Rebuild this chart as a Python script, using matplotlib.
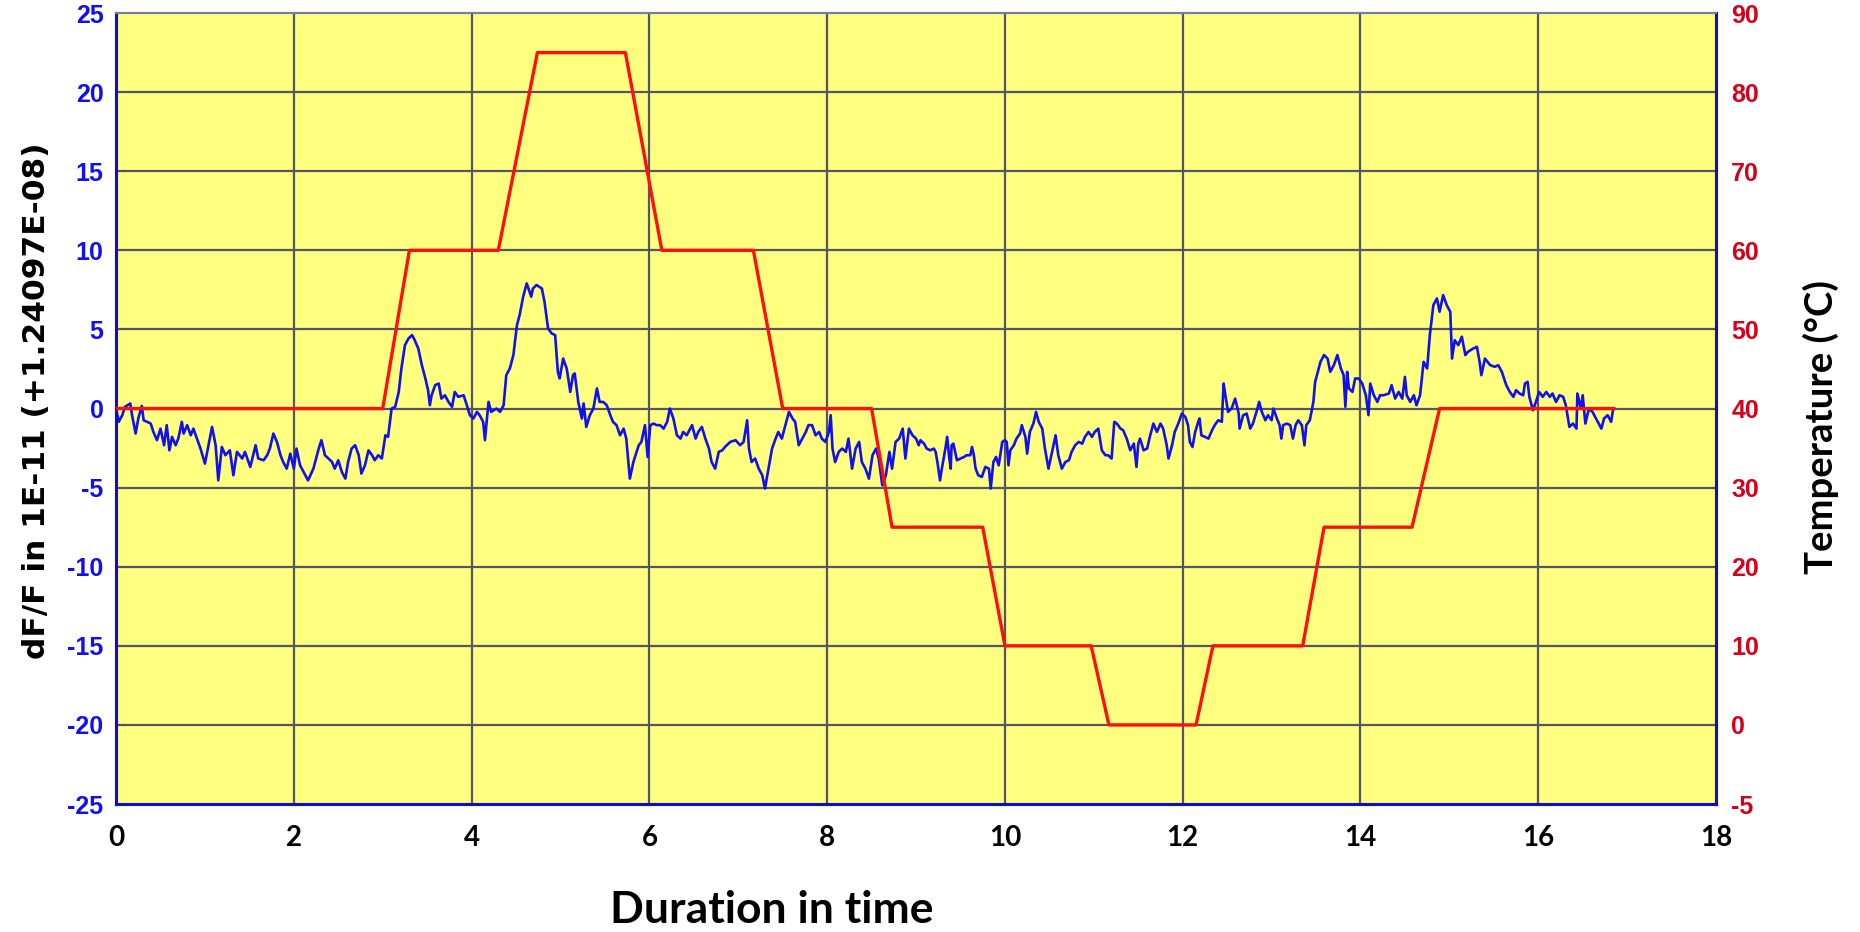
import matplotlib
matplotlib.use("Agg")
import matplotlib.pyplot as plt

plt.rcParams["axes.unicode_minus"] = False

# 溫度程序 (°C)
temp_t = [0, 3.0, 3.3, 4.3, 4.74, 5.73, 6.14, 7.17, 7.5, 8.5, 8.73, 9.75, 10.0, 10.97,
          11.17, 12.15, 12.34, 13.35, 13.59, 14.58, 14.89, 16.85]
temp_c = [40, 40, 60, 60, 85, 85, 60, 60, 40, 40, 25, 25, 10, 10, 0, 0, 10, 10, 25, 25, 40, 40]

# dF/F 讀值 (1E-11)
df_t = [0.00, 0.03, 0.07, 0.10, 0.16, 0.18, 0.22, 0.25, 0.29, 0.31, 0.35, 0.39, 0.42, 0.46, 0.50,
        0.54, 0.57, 0.60, 0.63, 0.67, 0.70, 0.74, 0.76, 0.80, 0.84, 0.87, 0.91, 0.95, 1.00, 1.04,
        1.08, 1.12, 1.15, 1.19, 1.23, 1.28, 1.32, 1.36, 1.42, 1.45, 1.51, 1.57, 1.60, 1.66, 1.70,
        1.73, 1.77, 1.81, 1.85, 1.88, 1.92, 1.96, 2.00, 2.03, 2.07, 2.11, 2.16, 2.22, 2.28, 2.31,
        2.35, 2.39, 2.43, 2.46, 2.50, 2.54, 2.58, 2.61, 2.65, 2.69, 2.73, 2.76, 2.80, 2.84, 2.88,
        2.91, 2.95, 2.99, 3.03, 3.06, 3.10, 3.14, 3.18, 3.21, 3.25, 3.29, 3.33, 3.36, 3.40, 3.44,
        3.48, 3.51, 3.53, 3.55, 3.59, 3.63, 3.66, 3.70, 3.74, 3.78, 3.81, 3.85, 3.91, 3.94, 3.98,
        4.02, 4.06, 4.09, 4.13, 4.15, 4.19, 4.22, 4.28, 4.32, 4.36, 4.39, 4.43, 4.47, 4.51, 4.54,
        4.58, 4.62, 4.64, 4.67, 4.69, 4.73, 4.79, 4.82, 4.86, 4.90, 4.94, 4.97, 4.99, 5.03, 5.07,
        5.11, 5.14, 5.16, 5.20, 5.24, 5.26, 5.29, 5.33, 5.37, 5.41, 5.44, 5.48, 5.52, 5.56, 5.59,
        5.63, 5.67, 5.71, 5.74, 5.78, 5.82, 5.88, 5.91, 5.95, 5.98, 6.01, 6.05, 6.08, 6.12, 6.16,
        6.20, 6.23, 6.27, 6.31, 6.35, 6.38, 6.42, 6.48, 6.52, 6.55, 6.59, 6.63, 6.67, 6.70, 6.74,
        6.78, 6.82, 6.85, 6.91, 6.97, 7.02, 7.06, 7.10, 7.12, 7.15, 7.19, 7.23, 7.27, 7.30, 7.34,
        7.38, 7.42, 7.45, 7.49, 7.53, 7.57, 7.61, 7.64, 7.68, 7.72, 7.76, 7.79, 7.83, 7.87, 7.91,
        7.94, 7.98, 8.02, 8.04, 8.06, 8.09, 8.13, 8.17, 8.21, 8.24, 8.28, 8.32, 8.36, 8.39, 8.43,
        8.47, 8.51, 8.55, 8.58, 8.62, 8.66, 8.70, 8.73, 8.77, 8.81, 8.85, 8.88, 8.92, 8.96, 9.00,
        9.03, 9.05, 9.09, 9.12, 9.16, 9.20, 9.22, 9.24, 9.27, 9.29, 9.33, 9.35, 9.37, 9.39, 9.40,
        9.42, 9.46, 9.50, 9.54, 9.57, 9.61, 9.63, 9.65, 9.67, 9.70, 9.74, 9.78, 9.82, 9.84, 9.87,
        9.90, 9.93, 9.97, 10.00, 10.02, 10.04, 10.06, 10.10, 10.13, 10.17, 10.19, 10.23, 10.25,
        10.28, 10.32, 10.35, 10.38, 10.42, 10.45, 10.49, 10.53, 10.57, 10.60, 10.64, 10.68, 10.72,
        10.75, 10.79, 10.83, 10.87, 10.90, 10.94, 10.98, 11.01, 11.05, 11.09, 11.13, 11.16, 11.20,
        11.23, 11.26, 11.30, 11.33, 11.37, 11.41, 11.45, 11.48, 11.50, 11.52, 11.56, 11.60, 11.63,
        11.67, 11.71, 11.75, 11.78, 11.82, 11.84, 11.88, 11.91, 11.95, 11.99, 12.03, 12.06, 12.08,
        12.11, 12.14, 12.18, 12.19, 12.21, 12.25, 12.29, 12.33, 12.36, 12.40, 12.44, 12.46, 12.48,
        12.51, 12.55, 12.59, 12.63, 12.64, 12.68, 12.72, 12.76, 12.79, 12.83, 12.86, 12.89, 12.93,
        12.96, 13.00, 13.02, 13.06, 13.09, 13.11, 13.13, 13.17, 13.21, 13.24, 13.27, 13.30, 13.34,
        13.36, 13.37, 13.39, 13.43, 13.47, 13.49, 13.52, 13.55, 13.59, 13.63, 13.66, 13.70, 13.74,
        13.78, 13.81, 13.83, 13.85, 13.87, 13.91, 13.94, 13.98, 14.02, 14.06, 14.09, 14.11, 14.15,
        14.19, 14.22, 14.26, 14.32, 14.35, 14.39, 14.43, 14.47, 14.50, 14.52, 14.56, 14.60, 14.63,
        14.67, 14.71, 14.75, 14.78, 14.82, 14.86, 14.89, 14.93, 14.97, 15.01, 15.03, 15.06, 15.10,
        15.14, 15.18, 15.21, 15.27, 15.31, 15.34, 15.36, 15.40, 15.46, 15.51, 15.55, 15.59, 15.64,
        15.68, 15.72, 15.75, 15.79, 15.83, 15.85, 15.88, 15.90, 15.94, 15.98, 16.01, 16.05, 16.09,
        16.13, 16.16, 16.20, 16.24, 16.28, 16.31, 16.35, 16.39, 16.43, 16.44, 16.48, 16.50, 16.53,
        16.57, 16.61, 16.65, 16.71, 16.74, 16.78, 16.82, 16.84]
df_v = [0.00, -0.84, -0.42, 0.11, 0.32, -0.42, -1.58, -0.63, 0.17, -0.74, -0.84, -0.95, -1.48, -2.00, -1.27,
        -2.32, -1.05, -2.64, -1.79, -2.32, -1.90, -0.84, -1.58, -1.05, -1.69, -1.27, -1.90, -2.53, -3.48, -2.32,
        -1.16, -2.32, -4.54, -2.43, -2.95, -2.64, -4.22, -2.74, -3.16, -2.74, -3.69, -2.32, -3.16, -3.27, -2.95,
        -2.53, -1.58, -2.11, -2.95, -3.38, -3.80, -2.85, -3.80, -2.53, -3.59, -4.01, -4.54, -3.80, -2.53, -2.00,
        -2.95, -3.16, -3.38, -3.80, -3.27, -4.01, -4.43, -3.38, -2.53, -2.32, -2.95, -4.11, -3.59, -2.64, -2.95,
        -3.27, -2.95, -3.16, -1.69, -1.79, 0.00, 0.11, 1.05, 2.53, 4.01, 4.43, 4.64, 4.32, 3.80, 2.74,
        1.90, 1.16, 0.21, 0.84, 1.48, 1.58, 0.63, 0.84, 0.42, 0.11, 1.05, 0.74, 0.84, 0.32, -0.42,
        -0.63, -0.21, -0.42, -0.84, -2.00, 0.42, -0.21, 0.00, -0.21, 0.21, 2.11, 2.53, 3.38, 5.27, 5.91,
        7.07, 7.91, 7.59, 7.07, 7.59, 7.81, 7.59, 6.75, 5.06, 4.75, 4.64, 2.32, 1.90, 3.16, 2.53,
        1.05, 2.11, 2.22, 0.42, -0.63, 0.32, -1.16, -0.42, 0.00, 1.27, 0.42, 0.42, 0.21, -0.42, -0.84,
        -1.05, -1.69, -1.27, -1.90, -4.43, -3.38, -2.32, -2.11, -1.05, -3.06, -1.05, -0.95, -1.05, -1.05, -1.27,
        -0.84, 0.00, -0.63, -1.69, -1.90, -1.48, -1.69, -1.05, -1.90, -1.48, -1.16, -1.90, -2.53, -3.38, -3.80,
        -2.74, -2.64, -2.43, -2.11, -2.00, -2.32, -2.11, -0.74, -2.53, -3.38, -3.16, -3.80, -4.22, -5.06, -3.80,
        -2.53, -1.90, -1.48, -1.90, -1.05, -0.21, -0.63, -0.84, -2.32, -1.90, -1.48, -1.05, -1.05, -1.69, -1.48,
        -1.90, -2.11, -1.48, -0.42, -2.53, -3.38, -2.74, -2.53, -2.74, -1.90, -3.80, -2.53, -2.11, -3.38, -3.80,
        -4.43, -2.95, -2.53, -3.16, -4.85, -4.22, -2.74, -3.80, -2.11, -1.90, -1.27, -3.16, -1.27, -1.69, -1.90,
        -2.32, -2.00, -2.22, -2.53, -2.64, -2.53, -2.74, -3.38, -4.54, -3.80, -2.53, -1.79, -2.95, -3.80, -2.32,
        -2.22, -3.27, -3.16, -3.06, -2.95, -2.95, -2.43, -2.95, -3.80, -4.22, -4.32, -3.69, -3.80, -5.06, -3.38,
        -3.06, -3.59, -2.11, -2.00, -2.11, -3.59, -2.64, -2.32, -1.90, -1.58, -1.05, -1.79, -2.85,
        -1.48, -0.95, -0.21, -0.84, -1.27, -2.53, -3.80, -2.74, -1.69, -2.95, -3.80, -3.38, -3.27,
        -2.74, -2.32, -2.11, -2.22, -1.79, -1.48, -1.79, -1.48, -1.27, -2.64, -2.95, -2.95, -3.16,
        -0.84, -0.95, -1.27, -1.37, -1.90, -2.64, -2.22, -3.69, -2.22, -1.90, -2.64, -2.53, -1.79,
        -0.95, -1.48, -0.95, -1.27, -2.32, -3.16, -2.32, -1.48, -0.95, -0.32, -0.53, -1.05, -2.11,
        -2.43, -1.48, -0.74, -0.63, -1.69, -1.79, -1.90, -1.37, -1.05, -0.74, -0.84, 1.58, 0.84,
        -0.21, 0.00, 0.63, -0.32, -1.27, -0.42, -0.32, -1.27, -0.95, -0.21, 0.42, -0.21, -0.74,
        -0.42, -0.74, 0.00, -0.63, -1.05, -1.90, -1.05, -0.95, -1.05, -1.90, -1.05, -0.74, -1.05,
        -1.90, -2.32, -1.05, -0.74, 0.42, 1.69, 2.32, 2.95, 3.38, 3.16, 2.32, 2.74, 3.38,
        2.53, 2.11, 0.11, 2.32, 1.27, 1.05, 1.90, 1.90, 1.58, 0.84, -0.42, 1.58, 0.84,
        0.42, 0.84, 0.84, 0.95, 1.48, 0.63, 1.05, 0.63, 2.00, 0.84, 0.42, 0.84, 0.21,
        0.84, 2.95, 2.53, 4.64, 6.54, 6.96, 6.12, 7.17, 6.54, 6.12, 3.16, 4.32, 4.01,
        4.54, 3.38, 3.59, 3.80, 3.90, 2.95, 2.11, 3.16, 2.74, 2.64, 2.74, 2.32, 1.48,
        1.05, 0.74, 1.16, 0.95, 0.84, 1.58, 1.69, 0.74, -0.11, 0.53, 1.05, 0.74, 1.05,
        0.74, 0.95, 0.42, 0.84, 0.74, 0.21, -1.16, -0.95, -1.27, 0.95, 0.00, 0.84, -0.95,
        0.00, -0.21, -0.63, -1.27, -0.63, -0.42, -0.84, -0.11]

left_ticks = [-25, -20, -15, -10, -5, 0, 5, 10, 15, 20, 25]
right_ticks = [-10, 0, 10, 20, 30, 40, 50, 60, 70, 80, 90]
right_labels = ["-5", "0", "10", "20", "30", "40", "50", "60", "70", "80", "90"]
x_ticks = [0, 2, 4, 6, 8, 10, 12, 14, 16, 18]

fig = plt.figure(figsize=(18.6, 9.32), dpi=100)
ax = fig.add_axes([0.0624, 0.1373, 0.8602, 0.8487])
ax.set_facecolor("#ffff80")

grid_c = "#555565"
for v in x_ticks[1:-1]:
    ax.axvline(v, color=grid_c, lw=1.6, zorder=1)
for v in left_ticks[1:-1]:
    ax.axhline(v, color=grid_c, lw=1.6, zorder=1)

ax.plot(df_t, df_v, color="#1010f0", lw=1.9, zorder=3)
ax.set_xlim(0, 18)
ax.set_ylim(-25, 25)
ax.set_xticks(x_ticks)
ax.set_yticks(left_ticks)
ax.tick_params(axis="y", length=0, pad=9, labelcolor="#1010f0", labelsize=18)
ax.tick_params(axis="x", length=0, pad=15, labelsize=20)
for lab in ax.get_yticklabels():
    lab.set_fontfamily("Liberation Sans")
    lab.set_fontweight("bold")
for lab in ax.get_xticklabels():
    lab.set_fontfamily("Lato")
    lab.set_fontweight("bold")

ax2 = ax.twinx()
ax2.plot(temp_t, temp_c, color="#ff1010", lw=2.4, zorder=4)
ax2.set_ylim(-10, 90)
ax2.set_yticks(right_ticks)
ax2.set_yticklabels(right_labels)
ax2.tick_params(axis="y", length=0, pad=11, labelcolor="#d4001c", labelsize=18)
for lab in ax2.get_yticklabels():
    lab.set_fontfamily("Liberation Sans")
    lab.set_fontweight("bold")

for a in (ax, ax2):
    a.spines["left"].set_color("#1010c0")
    a.spines["bottom"].set_color("#1010c0")
    a.spines["right"].set_color("#1010c0")
    a.spines["top"].set_color("#7a7aa8")
    a.spines["left"].set_linewidth(2.2)
    a.spines["bottom"].set_linewidth(2.2)
    a.spines["right"].set_linewidth(2.2)
    a.spines["top"].set_linewidth(1.5)

fig.text(0.012, 0.57, "dF/F in 1E-11 (+1.24097E-08)", rotation=90, ha="left", va="center",
         fontsize=22.5, fontweight="bold", family="DejaVu Sans")
fig.text(0.979, 0.542, "Temperature (°C)", rotation=90, ha="center", va="center",
         fontsize=27.5, fontweight="bold", family="Lato")
fig.text(0.415, 0.024, "Duration in time", ha="center", va="center",
         fontsize=32, fontweight="bold", family="Lato")

fig.savefig("out.png", dpi=100)
